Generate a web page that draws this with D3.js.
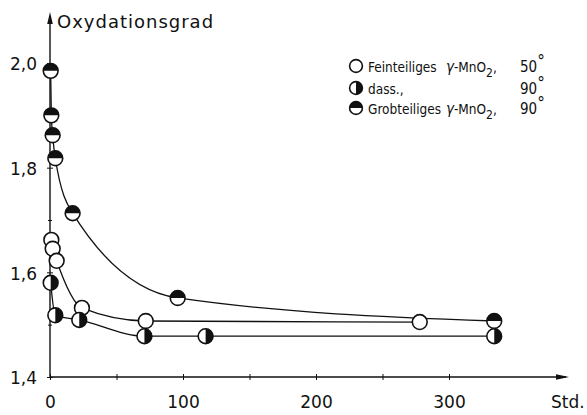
<!DOCTYPE html>
<html>
<head>
<meta charset="utf-8">
<script src="https://cdn.jsdelivr.net/npm/d3@7"></script>
<style>
	body { margin: 0; background: #fff; }
	svg text { font-family: "DejaVu Sans", sans-serif; fill: #111; }
	.legend text { font-family: "DejaVu Sans Condensed", "DejaVu Sans", sans-serif; }
</style>
</head>
<body>
<svg id="chart"></svg>
<script>
(function(){

	//Data (hours, Oxydationsgrad)
	var hoursFein50 = [1, 2, 5, 24, 72, 278];
	var gradFein50  = [1.662, 1.645, 1.622, 1.532, 1.507, 1.505];
	var hoursFein90 = [0.5, 4, 22, 71, 117, 334];
	var gradFein90  = [1.58, 1.518, 1.509, 1.478, 1.478, 1.478];
	var hoursGrob90 = [0.5, 1, 2, 4, 17, 96, 334];
	var gradGrob90  = [1.985, 1.90, 1.862, 1.818, 1.713, 1.551, 1.507];

	//Ticks
	var xTickLabels = [0, 100, 200, 300];
	var xMinorTicks = [50, 150, 250];
	var yTickLabels = [1.4, 1.6, 1.8, 2.0];
	var yMinorTicks = [1.5, 1.7, 1.9];

	//Legend
	var legendNames = ["Feinteiliges", "dass.,", "Grobteiliges"];
	var legendTemps = ["50", "90", "90"];
	var legendFormula = [true, false, true];
	var markerKinds = ["open", "right", "top"];

	//SVG Configurations
	var svgWidth = 587;
	var svgHeight = 415;
	var markerSize = 7.4;

	var svg = d3.select("#chart")
		.attr("width", svgWidth)
		.attr("height", svgHeight);

	var x = d3.scaleLinear().domain([0, 300]).range([50, 449]);
	var y = d3.scaleLinear().domain([1.4, 2.0]).range([377, 63]);

	var deFormat = d3.formatLocale({decimal: ",", thousands: ".", grouping: [3], currency: ["", ""]}).format(".1f");

	var series = [
		{hours: hoursGrob90, grad: gradGrob90, kind: "top"},
		{hours: hoursFein50, grad: gradFein50, kind: "open"},
		{hours: hoursFein90, grad: gradFein90, kind: "right"}
	];

	drawAxes();
	drawCurves();
	drawMarkers();
	drawLegend();

	function drawAxes(){
		//x axis, labelled ticks
		var gx = svg.append("g")
			.attr("transform", "translate(0," + y(1.4) + ")")
			.call(d3.axisBottom(x).tickValues(xTickLabels).tickSize(3).tickFormat(d3.format("d")));
		gx.select(".domain").remove();
		gx.selectAll(".tick line").attr("y1", -3).attr("y2", 3).attr("stroke", "#111");
		gx.selectAll(".tick text").attr("y", 31).attr("dy", null)
			.attr("font-size", "17px").attr("font-family", null);

		var gxMinor = svg.append("g")
			.attr("transform", "translate(0," + y(1.4) + ")")
			.call(d3.axisBottom(x).tickValues(xMinorTicks).tickSize(3).tickFormat(""));
		gxMinor.select(".domain").remove();
		gxMinor.selectAll(".tick line").attr("y1", -3).attr("y2", 3).attr("stroke", "#111");

		//y axis
		var gy = svg.append("g")
			.attr("transform", "translate(" + x(0) + ",0)")
			.call(d3.axisLeft(y).tickValues(yTickLabels).tickSize(3).tickFormat(deFormat));
		gy.select(".domain").remove();
		gy.selectAll(".tick line").attr("x1", 3).attr("x2", -3).attr("stroke", "#111");
		gy.selectAll(".tick text").attr("x", -40).attr("dy", "0.4em")
			.attr("text-anchor", "start").attr("font-size", "17px").attr("font-family", null);

		var gyMinor = svg.append("g")
			.attr("transform", "translate(" + x(0) + ",0)")
			.call(d3.axisLeft(y).tickValues(yMinorTicks).tickSize(3).tickFormat(""));
		gyMinor.select(".domain").remove();
		gyMinor.selectAll(".tick line").attr("x1", 2).attr("x2", -2).attr("stroke", "#111");

		//axis lines with arrows
		var x0 = x(0), y0 = y(1.4);
		svg.append("line")
			.attr("x1", x0).attr("y1", y0).attr("x2", 566).attr("y2", y0)
			.attr("stroke", "#111").attr("stroke-width", 1.4);
		svg.append("path")
			.attr("d", "M569," + y0 + " L556," + (y0 - 2.8) + " L556," + (y0 + 2.8) + " Z")
			.attr("fill", "#111");
		svg.append("line")
			.attr("x1", x0).attr("y1", y0).attr("x2", x0).attr("y2", 16)
			.attr("stroke", "#111").attr("stroke-width", 1.4);
		svg.append("path")
			.attr("d", "M" + x0 + ",12 L" + (x0 - 2.8) + ",24 L" + (x0 + 2.8) + ",24 Z")
			.attr("fill", "#111");

		//axis titles
		svg.append("text")
			.attr("x", 57).attr("y", 28)
			.attr("font-size", "18px")
			.attr("letter-spacing", "1px")
			.text("Oxydationsgrad");
		svg.append("text")
			.attr("x", 551).attr("y", 408)
			.attr("font-size", "17px")
			.text("Std.");
	}

	//Smooth curves through each series
	function drawCurves(){
		var line = d3.line()
			.x(function(d){ return x(d[0]); })
			.y(function(d){ return y(d[1]); })
			.curve(d3.curveMonotoneX);

		svg.append("g").selectAll("path")
			.data(series)
			.enter()
			.append("path")
			.attr("d", function(d){
				return line(d.hours.map(function(h, i){ return [h, d.grad[i]]; }));
			})
			.attr("fill", "none")
			.attr("stroke", "#111")
			.attr("stroke-width", 1.3);
	}

	function drawMarkers(){
		series.forEach(function(s){
			s.hours.forEach(function(h, i){
				addMarker(svg, x(h), y(s.grad[i]), markerSize, s.kind);
			});
		});
	}

	//Circle, optionally half filled
	function addMarker(parent, cx, cy, r, kind){
		var g = parent.append("g");
		g.append("circle")
			.attr("cx", cx).attr("cy", cy).attr("r", r)
			.attr("fill", "#fff");
		if(kind == "right"){
			g.append("path")
				.attr("d", "M" + cx + "," + (cy - r) + " A" + r + "," + r + " 0 0 1 " + cx + "," + (cy + r) + " Z")
				.attr("fill", "#111");
		} else if(kind == "top"){
			g.append("path")
				.attr("d", "M" + (cx - r) + "," + cy + " A" + r + "," + r + " 0 0 1 " + (cx + r) + "," + cy + " Z")
				.attr("fill", "#111");
		}
		g.append("circle")
			.attr("cx", cx).attr("cy", cy).attr("r", r)
			.attr("fill", "none")
			.attr("stroke", "#111")
			.attr("stroke-width", 1.6);
	}

	function drawLegend(){
		var legend = svg.append("g").classed("legend", true);
		var rowY = [72, 94, 114];
		for(var i = 0; i < legendNames.length; i++){
			addMarker(legend, 356, rowY[i] - 6, 6.4, markerKinds[i]);
			legend.append("text")
				.attr("x", 368).attr("y", rowY[i])
				.attr("font-size", "13.5px")
				.text(legendNames[i]);
			if(legendFormula[i]){
				var t = legend.append("text")
					.attr("x", 446).attr("y", rowY[i])
					.attr("font-size", "13.5px");
				t.append("tspan").attr("font-style", "italic").attr("font-size", "15px").text("γ");
				t.append("tspan").text("-MnO");
				t.append("tspan").attr("dy", 5).attr("font-size", "12px").text("2");
				t.append("tspan").attr("dy", -5).text(",");
			}
			var temp = legend.append("text")
				.attr("x", 520).attr("y", rowY[i])
				.attr("font-size", "15px");
			temp.append("tspan").text(legendTemps[i]);
			temp.append("tspan").attr("dy", -5).attr("font-size", "17px").text("°");
		}
	}

})();
</script>
</body>
</html>
